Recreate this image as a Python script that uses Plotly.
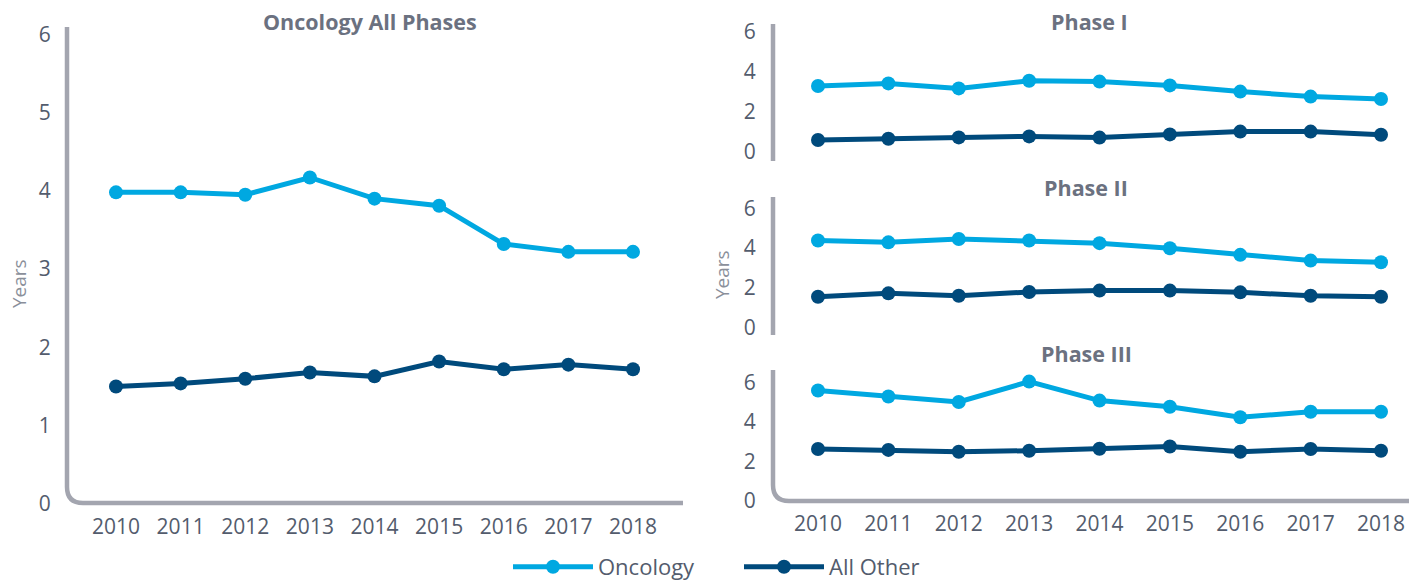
import plotly.graph_objects as go

years = [2010, 2011, 2012, 2013, 2014, 2015, 2016, 2017, 2018]

all_onc = [3.98, 3.98, 3.95, 4.17, 3.90, 3.81, 3.32, 3.22, 3.22]
all_oth = [1.50, 1.54, 1.60, 1.68, 1.63, 1.82, 1.72, 1.78, 1.72]

p1_onc = [3.30, 3.43, 3.18, 3.56, 3.52, 3.33, 3.02, 2.77, 2.65]
p1_oth = [0.60, 0.66, 0.73, 0.78, 0.72, 0.88, 1.02, 1.02, 0.86]

p2_onc = [4.37, 4.28, 4.45, 4.37, 4.24, 3.98, 3.65, 3.36, 3.28]
p2_oth = [1.54, 1.71, 1.59, 1.78, 1.85, 1.85, 1.76, 1.59, 1.54]

p3_onc = [5.58, 5.28, 5.00, 6.03, 5.07, 4.76, 4.23, 4.51, 4.51]
p3_oth = [2.63, 2.58, 2.49, 2.54, 2.64, 2.75, 2.49, 2.63, 2.54]

titles = ["Oncology All Phases", "Phase I", "Phase II", "Phase III"]
series_names = ["Oncology", "All Other"]

W, H = 1409, 581
C_ONC = "#00A8E1"
C_OTH = "#004A7C"
C_AXIS = "#A3A5AF"
C_TICK = "#535C6D"
C_TITLE = "#6B7180"
FONT = "Open Sans"


def px(x):
    return x / W


def py(y):
    return 1 - y / H


fig = go.Figure()

panels = [
    (all_onc, all_oth, "x", "y"),
    (p1_onc, p1_oth, "x2", "y2"),
    (p2_onc, p2_oth, "x3", "y3"),
    (p3_onc, p3_oth, "x4", "y4"),
]

for i, (onc, oth, xa, ya) in enumerate(panels):
    fig.add_trace(go.Scatter(
        x=years, y=onc, xaxis=xa, yaxis=ya, name=series_names[0],
        mode="lines+markers", line=dict(color=C_ONC, width=5),
        marker=dict(color=C_ONC, size=14), legendgroup="onc",
        showlegend=(i == 0)))
    fig.add_trace(go.Scatter(
        x=years, y=oth, xaxis=xa, yaxis=ya, name=series_names[1],
        mode="lines+markers", line=dict(color=C_OTH, width=5),
        marker=dict(color=C_OTH, size=14), legendgroup="oth",
        showlegend=(i == 0)))

tickfont = dict(family=FONT, size=21, color=C_TICK)

common_x = dict(showgrid=False, zeroline=False, showline=False, automargin=False,
                tickmode="array", tickvals=years, ticks="outside",
                ticklen=4, tickcolor="rgba(0,0,0,0)", tickfont=tickfont)
common_y = dict(showgrid=False, zeroline=False, showline=False, automargin=False,
                tickmode="array", tickvals=[0, 2, 4, 6], ticks="outside",
                tickcolor="rgba(0,0,0,0)", tickfont=tickfont)

L_LEFT, L_RIGHT = 67, 683
R_LEFT, R_RIGHT = 773, 1409

XR_LEFT = [2010 - (116 - L_LEFT) / 64.625, 2018 + (L_RIGHT - 633) / 64.625]
XR_RIGHT = [2010 - (818 - R_LEFT) / 70.375, 2018 + (R_RIGHT - 1381) / 70.375]

fig.update_layout(
    width=W, height=H,
    margin=dict(l=0, r=0, t=0, b=0, pad=0, autoexpand=False),
    paper_bgcolor="white", plot_bgcolor="rgba(0,0,0,0)",
    font=dict(family=FONT, color=C_TICK),
    xaxis=dict(common_x, domain=[px(L_LEFT), px(L_RIGHT)], anchor="y", range=XR_LEFT),
    yaxis=dict(common_y, domain=[py(504), py(27)], anchor="x",
               range=[0, (504 - 27) / 78.3], tickvals=[0, 1, 2, 3, 4, 5, 6],
               ticklen=11),
    xaxis2=dict(common_x, domain=[px(R_LEFT), px(R_RIGHT)], anchor="y2",
                range=XR_RIGHT, showticklabels=False),
    yaxis2=dict(common_y, domain=[py(161), py(24)], anchor="x2",
                range=[-(161 - 152) / 20, (152 - 24) / 20], ticklen=12),
    xaxis3=dict(common_x, domain=[px(R_LEFT), px(R_RIGHT)], anchor="y3",
                range=XR_RIGHT, showticklabels=False),
    yaxis3=dict(common_y, domain=[py(335), py(197)], anchor="x3",
                range=[-(335 - 327.3) / 19.85, (327.3 - 197) / 19.85], ticklen=12),
    xaxis4=dict(common_x, domain=[px(R_LEFT), px(R_RIGHT)], anchor="y4", range=XR_RIGHT),
    yaxis4=dict(common_y, domain=[py(501), py(370)], anchor="x4",
                range=[0, (501 - 370) / 19.8], ticklen=12),
    legend=dict(orientation="h", x=px(508), xanchor="left", y=py(567), yanchor="middle",
                font=dict(family=FONT, size=22, color=C_TICK),
                itemwidth=80, entrywidth=136, bgcolor="rgba(0,0,0,0)"),
    showlegend=True,
)

R = 16


def l_path(xl, yt, yb, xr):
    return (f"M {px(xl)} {py(yt)} L {px(xl)} {py(yb - R)} "
            f"Q {px(xl)} {py(yb)} {px(xl + R)} {py(yb)} L {px(xr)} {py(yb)}")


shapes = [
    dict(type="path", xref="paper", yref="paper", path=l_path(L_LEFT, 27, 503, L_RIGHT),
         line=dict(color=C_AXIS, width=4.5)),
    dict(type="path", xref="paper", yref="paper", path=l_path(R_LEFT, 370, 501, R_RIGHT),
         line=dict(color=C_AXIS, width=4.5)),
    dict(type="line", xref="paper", yref="paper", x0=px(R_LEFT), x1=px(R_LEFT),
         y0=py(24), y1=py(161), line=dict(color=C_AXIS, width=4.5)),
    dict(type="line", xref="paper", yref="paper", x0=px(R_LEFT), x1=px(R_LEFT),
         y0=py(197), y1=py(335), line=dict(color=C_AXIS, width=4.5)),
]
fig.update_layout(shapes=shapes)

title_pos = [(370, 22), (1089, 22), (1086, 188), (1086, 354)]
annotations = []
for t, (tx, ty) in zip(titles, title_pos):
    annotations.append(dict(text=f"<b>{t}</b>", x=px(tx), y=py(ty), xref="paper", yref="paper",
                            xanchor="center", yanchor="middle", showarrow=False,
                            font=dict(family=FONT, size=21.5, color=C_TITLE)))
for (yx, yy) in [(19, 284), (722, 275)]:
    annotations.append(dict(text="Years", x=px(yx), y=py(yy), xref="paper", yref="paper",
                            xanchor="center", yanchor="middle", showarrow=False, textangle=-90,
                            font=dict(family=FONT, size=19, color="#8A8F9A")))
fig.update_layout(annotations=annotations)

post = (
    "document.documentElement.style.margin='0';"
    "document.documentElement.style.padding='0';"
    "document.documentElement.style.overflow='hidden';"
    "document.body.style.margin='0';"
    "document.body.style.padding='0';"
    "document.body.style.overflow='hidden';"
)
fig.write_html("out.html", post_script=post, config={"displayModeBar": False})
